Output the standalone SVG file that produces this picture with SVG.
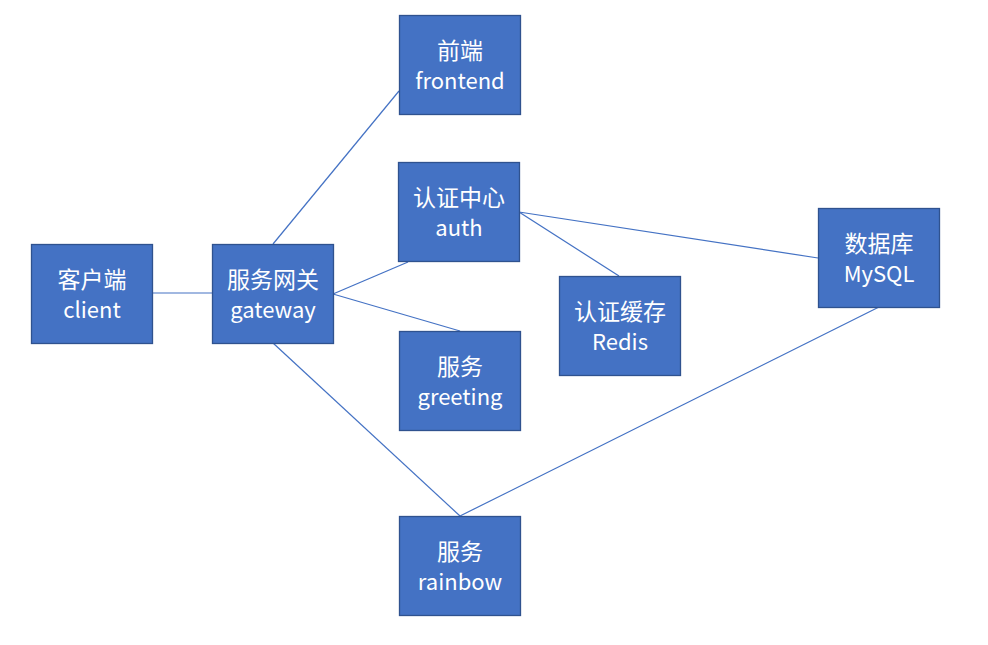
<svg xmlns="http://www.w3.org/2000/svg" width="988" height="645" viewBox="0 0 988 645">
<style>
.box{fill:#4472C4;stroke:#2F528F;stroke-width:1.3}
.t{fill:#fff;font-family:"Noto Sans CJK SC","Liberation Sans",sans-serif;font-size:22px;text-anchor:middle}
.z{font-size:23px}
.c line{stroke:#4472C4;stroke-width:1.2}
</style>
<rect width="988" height="645" fill="#fff"/>
<g class="c" id="connectors">
<line x1="152" y1="293" x2="212" y2="293"/>
<line x1="273" y1="244" x2="399" y2="91"/>
<line x1="333" y1="294" x2="408" y2="262"/>
<line x1="333" y1="294" x2="460" y2="331"/>
<line x1="273" y1="343" x2="460" y2="516"/>
<line x1="519" y1="212" x2="818" y2="258"/>
<line x1="519" y1="212" x2="619" y2="276"/>
<line x1="879" y1="307" x2="460" y2="516"/>
</g>
<g id="client"><rect class="box" x="31.5" y="244.5" width="121" height="99"/><text class="t z" x="92" y="288">客户端</text><text class="t" x="92" y="318">client</text></g>
<g id="gateway"><rect class="box" x="212.5" y="244.5" width="121" height="99"/><text class="t z" x="273" y="288">服务网关</text><text class="t" x="273" y="318">gateway</text></g>
<g id="frontend"><rect class="box" x="399.5" y="15.5" width="121" height="99"/><text class="t z" x="460" y="59">前端</text><text class="t" x="460" y="89">frontend</text></g>
<g id="auth"><rect class="box" x="398.5" y="162.5" width="121" height="99"/><text class="t z" x="459" y="206">认证中心</text><text class="t" x="459" y="236">auth</text></g>
<g id="greeting"><rect class="box" x="399.5" y="331.5" width="121" height="99"/><text class="t z" x="460" y="375">服务</text><text class="t" x="460" y="405">greeting</text></g>
<g id="rainbow"><rect class="box" x="399.5" y="516.5" width="121" height="99"/><text class="t z" x="460" y="560">服务</text><text class="t" x="460" y="590">rainbow</text></g>
<g id="redis"><rect class="box" x="559.5" y="276.5" width="121" height="99"/><text class="t z" x="620" y="320">认证缓存</text><text class="t" x="620" y="350">Redis</text></g>
<g id="mysql"><rect class="box" x="818.5" y="208.5" width="121" height="99"/><text class="t z" x="879" y="252">数据库</text><text class="t" x="879" y="282">MySQL</text></g>
</svg>
